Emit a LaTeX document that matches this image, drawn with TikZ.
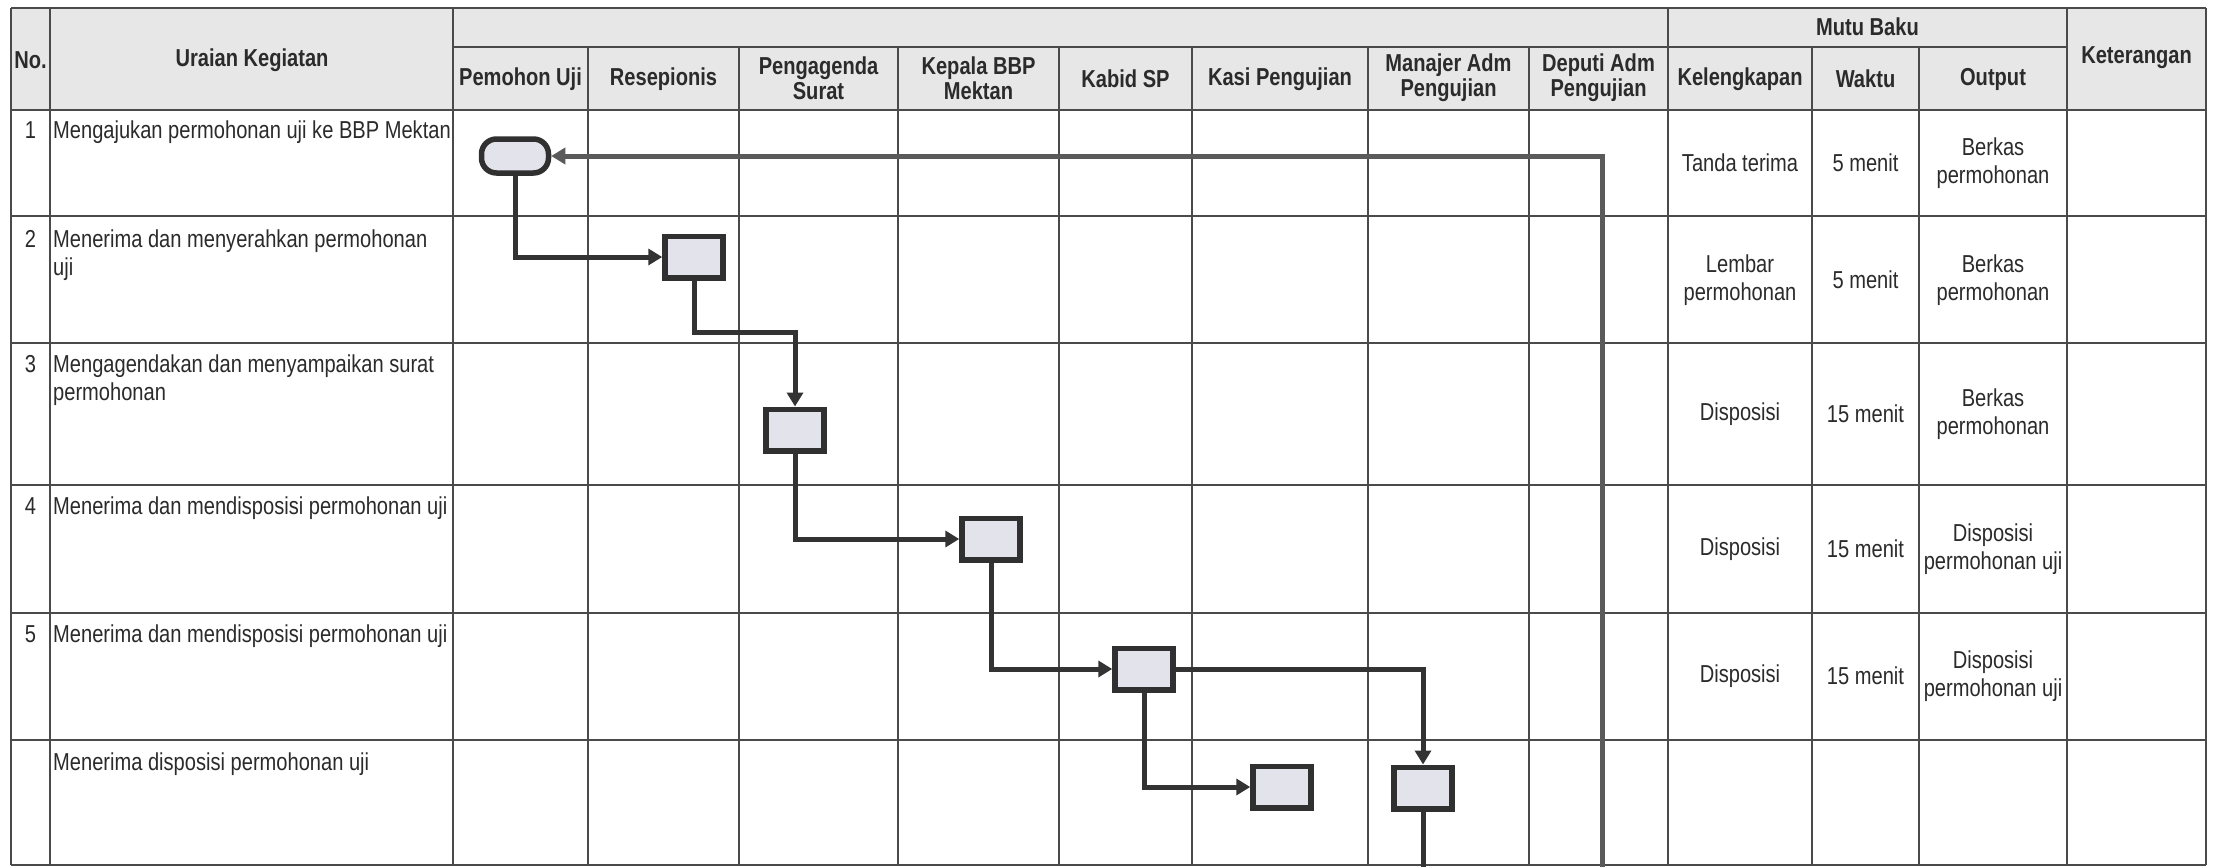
\documentclass[tikz,border=0pt]{standalone}
\usepackage{fontspec}
\setmainfont[FakeStretch=0.82]{Liberation Sans}
\usetikzlibrary{arrows.meta,calc}
\definecolor{hdrbg}{HTML}{E7E7E7}
\definecolor{gridc}{HTML}{4A4A4A}
\definecolor{boxfill}{HTML}{E3E3EB}
\definecolor{boxline}{HTML}{303030}
\definecolor{flowc}{HTML}{333333}
\definecolor{retc}{HTML}{5A5A5A}
\definecolor{txtc}{HTML}{2B2B2B}
\begin{document}
\begin{tikzpicture}[x=1pt,y=-1pt,
  tf/.style={font=\fontsize{24.5}{28}\selectfont, text=txtc, inner sep=0pt},
  hd/.style={font=\fontsize{24.5}{25}\selectfont\bfseries, text=txtc, inner sep=0pt, align=center},
  cell/.style={tf, align=center},
  desc/.style={tf, align=left, anchor=north west},
  num/.style={tf, anchor=north},
  gl/.style={draw=gridc, line width=2.2pt},
  proc/.style={draw=boxline, line width=5.5pt, fill=boxfill, minimum width=58pt, minimum height=41.5pt, inner sep=0pt},
  term/.style={proc, rounded corners=15pt, minimum width=67pt, minimum height=34pt},
  flow/.style={draw=flowc, line width=5pt, -{Triangle[length=14pt,width=16pt]}},
  flowend/.style={draw=flowc, line width=5pt},
  ret/.style={draw=retc, line width=5pt, -{Triangle[length=14pt,width=16pt]}}
]
\useasboundingbox (0,0) rectangle (2213,867);
\fill[white] (0,0) rectangle (2213,867);
\fill[hdrbg] (11,8) rectangle (2206,110);

% grid
\foreach \y in {8,110,216,343,485,613,740,865} \draw[gl] (11,\y) -- (2206,\y);
\draw[gl] (453,47) -- (2067,47);
\foreach \x in {11,50,453,1668,2067,2206} \draw[gl] (\x,8) -- (\x,865);
\foreach \x in {588,739,898,1059,1192,1368,1529,1812,1919} \draw[gl] (\x,47) -- (\x,865);

% header texts
\node[hd] (hNo) at (30.5,60) {No.};
\node[hd] (hUr) at (252,60) {Uraian Kegiatan};
\node[hd] (hL1) at (520.5,79) {Pemohon Uji};
\node[hd] (hL2) at (663.5,79) {Resepionis};
\node[hd] (hL3) at (818.5,78) {Pengagenda\\Surat};
\node[hd] (hL4) at (978.5,78) {Kepala BBP\\Mektan};
\node[hd] (hL5) at (1125.5,79) {Kabid SP};
\node[hd] (hL6) at (1280,79) {Kasi Pengujian};
\node[hd] (hL7) at (1448.5,78) {Manajer Adm\\Pengujian};
\node[hd] (hL8) at (1598.5,78) {Deputi Adm\\Pengujian};
\node[hd] (hMB) at (1867.5,27) {Mutu Baku};
\node[hd] (hKl) at (1740,79) {Kelengkapan};
\node[hd] (hWk) at (1865.5,79) {Waktu};
\node[hd] (hOu) at (1993,79) {Output};
\node[hd] (hKe) at (2136.5,58) {Keterangan};

% row descriptions
\node[num] (n1) at (30.5,121) {1};
\node[desc] (d1) at (53,121) {Mengajukan permohonan uji ke BBP Mektan};
\node[num] (n2) at (30.5,230) {2};
\node[desc] (d2) at (53,230) {Menerima dan menyerahkan permohonan\\uji};
\node[num] (n3) at (30.5,355) {3};
\node[desc] (d3) at (53,355) {Mengagendakan dan menyampaikan surat\\permohonan};
\node[num] (n4) at (30.5,497) {4};
\node[desc] (d4) at (53,497) {Menerima dan mendisposisi permohonan uji};
\node[num] (n5) at (30.5,625) {5};
\node[desc] (d5) at (53,625) {Menerima dan mendisposisi permohonan uji};
\node[desc] (d6) at (53,753) {Menerima disposisi permohonan uji};

% mutu baku cells
\node[cell] (k1) at (1740,163) {Tanda terima};
\node[cell] (w1) at (1865.5,163) {5 menit};
\node[cell] (o1) at (1993,163) {Berkas\\permohonan};
\node[cell] (k2) at (1740,280) {Lembar\\permohonan};
\node[cell] (w2) at (1865.5,280) {5 menit};
\node[cell] (o2) at (1993,280) {Berkas\\permohonan};
\node[cell] (k3) at (1740,414) {Disposisi};
\node[cell] (w3) at (1865.5,414) {15 menit};
\node[cell] (o3) at (1993,414) {Berkas\\permohonan};
\node[cell] (k4) at (1740,549) {Disposisi};
\node[cell] (w4) at (1865.5,549) {15 menit};
\node[cell] (o4) at (1993,549) {Disposisi\\permohonan uji};
\node[cell] (k5) at (1740,676) {Disposisi};
\node[cell] (w5) at (1865.5,676) {15 menit};
\node[cell] (o5) at (1993,676) {Disposisi\\permohonan uji};

% flow shapes
\node[term] (t1) at (515,156) {};
\node[proc] (b2) at (694,257) {};
\node[proc] (b3) at (795,430) {};
\node[proc] (b4) at (991,539) {};
\node[proc] (b5) at (1144,669) {};
\node[proc] (b6a) at (1282,787) {};
\node[proc] (b6b) at (1423,788) {};

\coordinate (k23) at (795,332);
\coordinate (exitA) at (1423,867);
\coordinate (exitB) at (1602,867);

% connectors
\draw[flow] (t1.south) |- (b2.west);
\draw[flow] (b2.south) |- (k23) -- (b3.north);
\draw[flow] (b3.south) |- (b4.west);
\draw[flow] (b4.south) |- (b5.west);
\draw[flow] (b5.east) -| (b6b.north);
\draw[flow] (b5.south) |- (b6a.west);
\draw[flowend] (b6b.south) -- (exitA);
\draw[ret] (exitB) |- (t1.east);
\end{tikzpicture}
\end{document}
